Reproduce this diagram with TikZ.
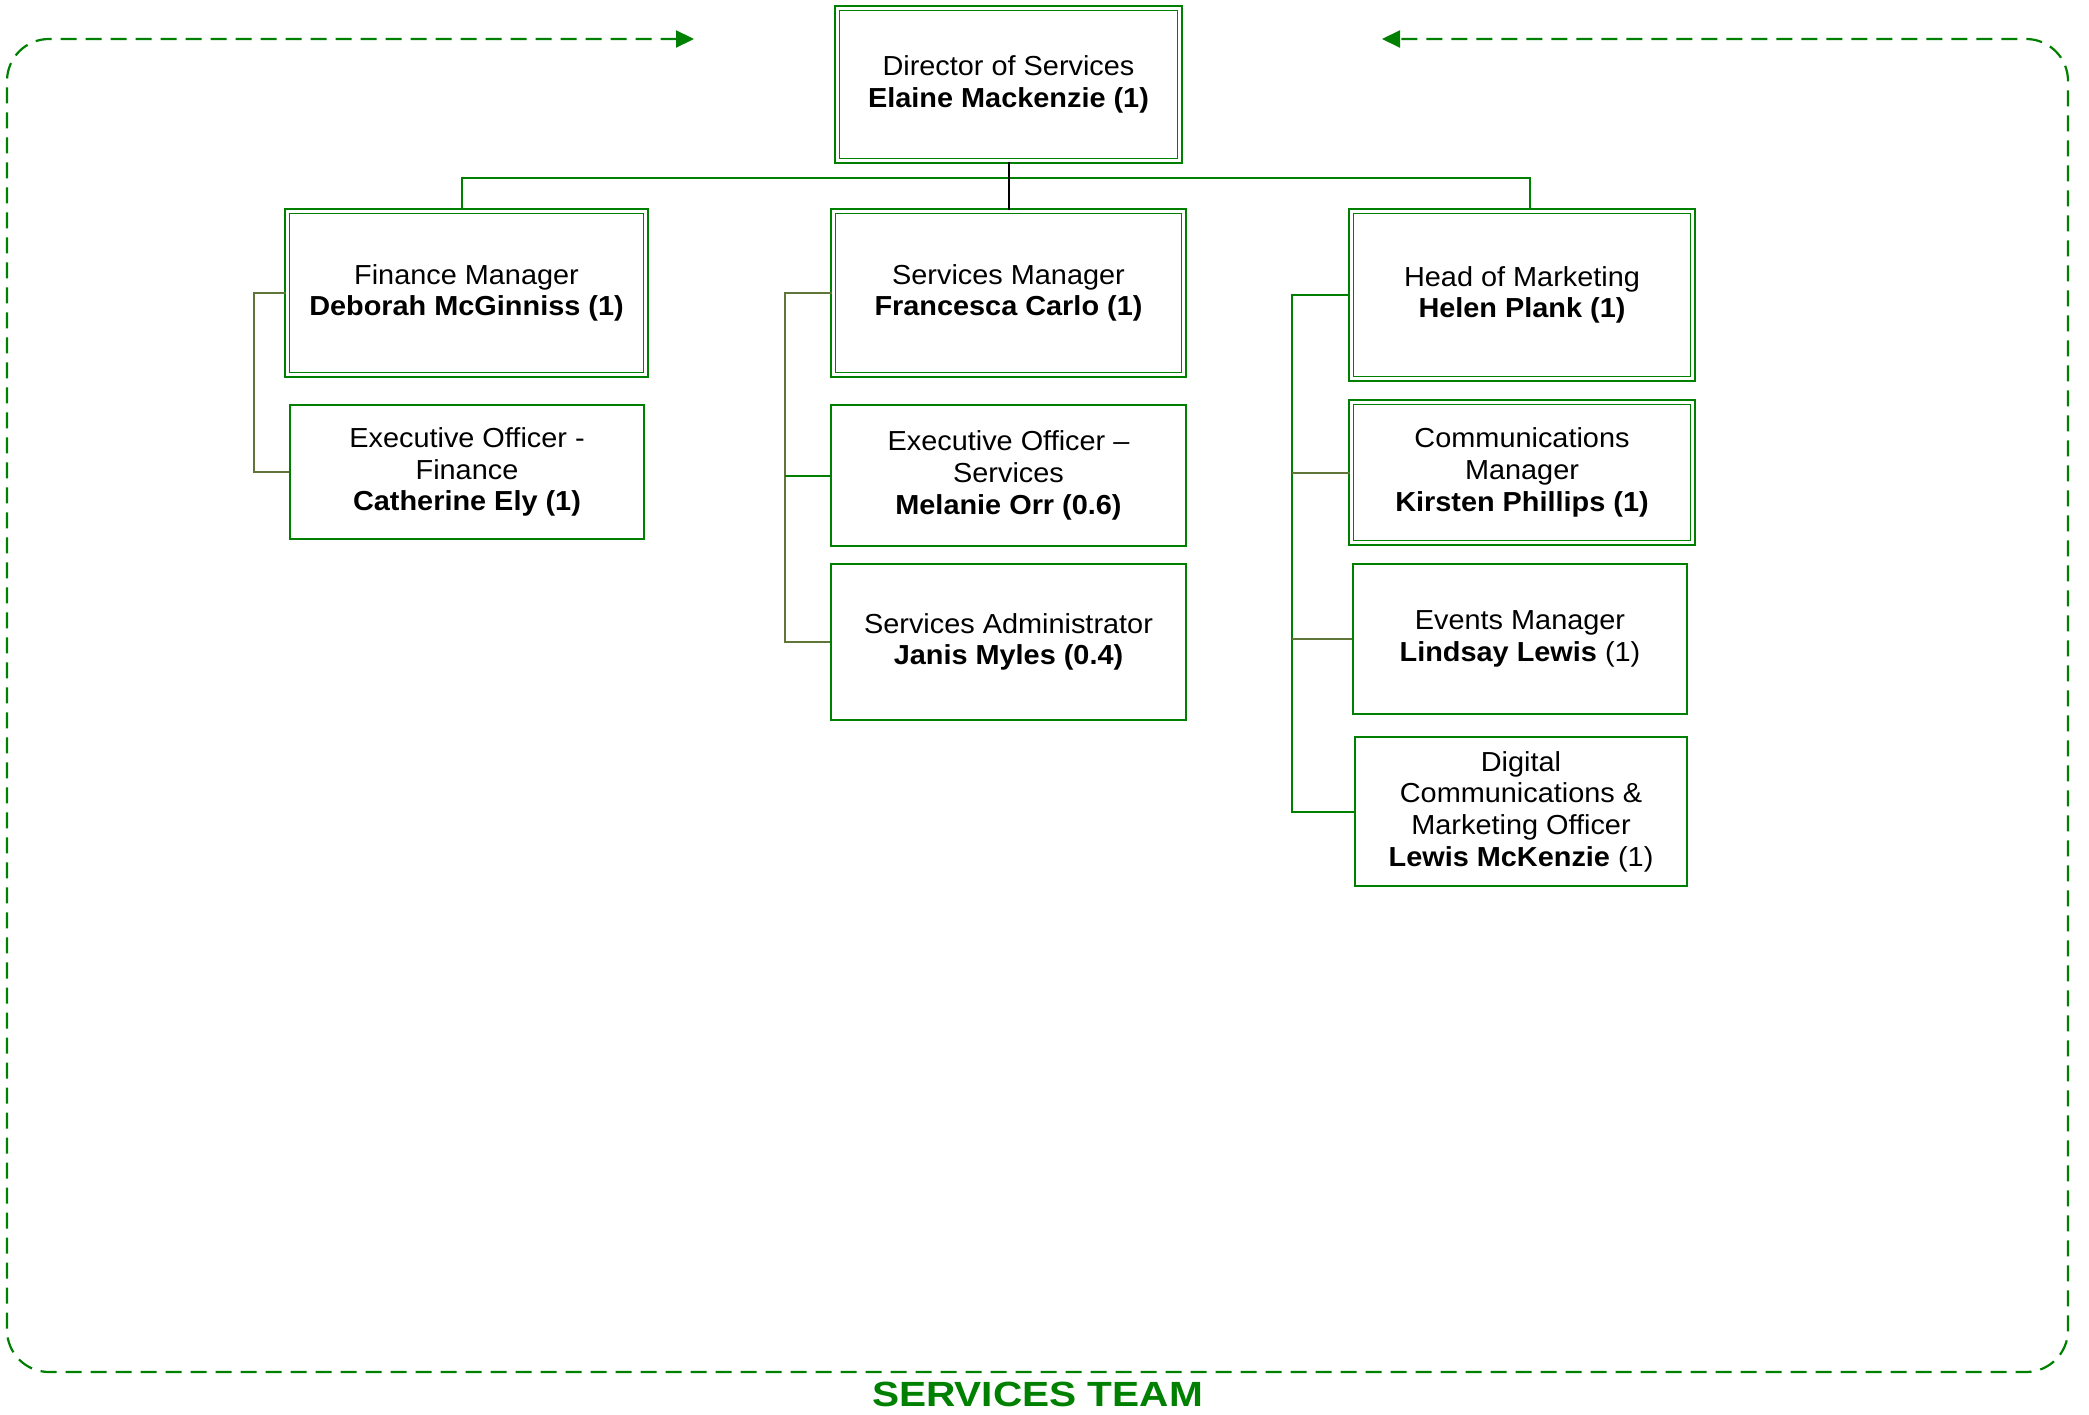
\documentclass[tikz,border=0pt]{standalone}
\usepackage{fontspec}
\setmainfont{Liberation Sans}[FakeStretch=1.05]
\newfontfamily\titlefont{Liberation Sans}[FakeStretch=1.16]
\usetikzlibrary{arrows.meta}
\definecolor{dgreen}{RGB}{0,128,0}
\definecolor{olivec}{RGB}{96,118,56}
\begin{document}
\begin{tikzpicture}[x=1pt,y=-1pt,
  box/.style={draw=dgreen, line width=2pt, rectangle, inner sep=0pt, align=center,
    font=\fontsize{27.5}{31.7}\selectfont},
  dbox/.style={box, double=white, line width=1.7pt, double distance=3pt},
  gconn/.style={draw=dgreen, line width=2pt},
  oconn/.style={draw=olivec, line width=2pt},
  frame/.style={draw=dgreen, line width=2.2pt, dash pattern=on 16pt off 9pt,
    rounded corners=42pt, {Triangle[length=18pt,width=17pt,fill=dgreen]}-{Triangle[length=18pt,width=17pt,fill=dgreen]}}
]
\useasboundingbox (0,0) rectangle (2089,1415);

% nodes
\node[dbox, minimum width=342.6pt, minimum height=152.6pt] (dir) at (1008.5,84.5)
  {Director of Services\\\textbf{Elaine Mackenzie (1)}};
\node[dbox, minimum width=358.6pt, minimum height=163.6pt] (fm) at (466.5,293)
  {Finance Manager\\\textbf{Deborah McGinniss (1)}};
\node[dbox, minimum width=350.6pt, minimum height=163.6pt] (sm) at (1008.5,293)
  {Services Manager\\\textbf{Francesca Carlo (1)}};
\node[dbox, minimum width=341.6pt, minimum height=167.6pt] (hm) at (1522,295)
  {Head of Marketing\\\textbf{Helen Plank (1)}};
\node[dbox, minimum width=341.6pt, minimum height=140.6pt] (cm) at (1522,472.5)
  {Communications\\Manager\\\textbf{Kirsten Phillips (1)}};
\node[box, minimum width=354pt, minimum height=134pt] (eof) at (467,472)
  {Executive Officer -\\Finance\\\textbf{Catherine Ely (1)}};
\node[box, minimum width=355pt, minimum height=141pt] (eos) at (1008.5,475.5)
  {Executive Officer --\\Services\\\textbf{Melanie Orr (0.6)}};
\node[box, minimum width=355pt, minimum height=156pt] (sa) at (1008.5,642)
  {Services Administrator\\\textbf{Janis Myles (0.4)}};
\node[box, minimum width=334pt, minimum height=150pt] (ev) at (1520,639)
  {Events Manager\\\textbf{Lindsay Lewis} (1)};
\node[box, minimum width=332pt, minimum height=149pt] (dig) at (1521,811.5)
  {Digital\\Communications \&\\Marketing Officer\\\textbf{Lewis McKenzie} (1)};

% helper coordinates
\coordinate (bar) at (0,178);
\coordinate (fx) at (254,0);
\coordinate (sx) at (785,0);
\coordinate (mx) at (1292,0);
\coordinate (fmtop) at (462,0);
\coordinate (hmtop) at (1530,0);

% top level connectors
\draw[gconn] (fmtop |- fm.north) |- (hmtop |- bar) -- (hmtop |- hm.north);
\draw[line width=2pt, black] (dir.south) -- (dir.south |- sm.north);

% finance
\draw[oconn] (fm.west) -- (fm.west -| fx) |- (eof.west);

% services
\draw[oconn] (sm.west) -- (sm.west -| sx) |- (sa.west);
\draw[gconn] (eos.west -| sx) -- (eos.west);

% marketing
\draw[gconn] (hm.west) -- (hm.west -| mx) |- (dig.west);
\draw[oconn] (cm.west -| mx) -- (cm.west);
\draw[oconn] (ev.west -| mx) -- (ev.west);

% dashed team frame
\coordinate (ltip) at (694,39);
\coordinate (rtip) at (1382,39);
\draw[frame] (ltip) -- (7,39) -- (7,1372) -- (2068,1372) -- (2068,39) -- (rtip);

\node[anchor=base, text=dgreen, inner sep=0pt, font=\titlefont\fontsize{35}{40}\selectfont\bfseries] (title) at (1037.5,1406) {SERVICES TEAM};
\end{tikzpicture}
\end{document}
